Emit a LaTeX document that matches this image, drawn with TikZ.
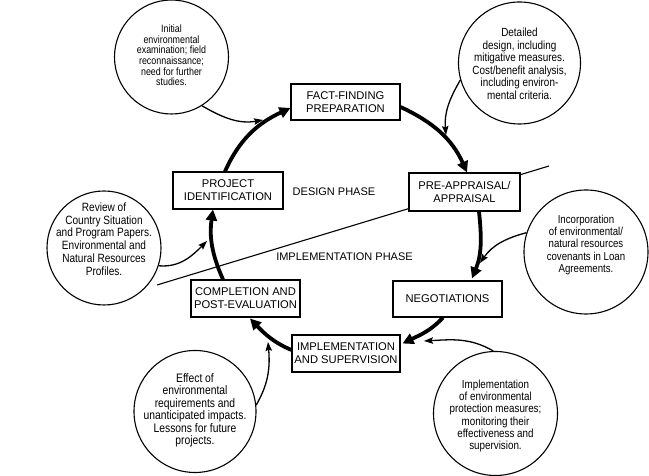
\documentclass[tikz,border=0pt]{standalone}
\usepackage{fontspec}
\setmainfont{Liberation Sans}
\newfontfamily\condfont[FakeStretch=0.84]{Liberation Sans}
\usetikzlibrary{arrows.meta,calc}
\begin{document}
\begin{tikzpicture}[x=1pt,y=1pt,
 box/.style={draw,line width=1.1pt,fill=white,align=center,inner sep=0pt,font=\fontsize{11.2}{12.7}\selectfont},
 bubble/.style={draw,circle,line width=1.1pt,inner sep=0pt},
 btext/.style={align=center,inner sep=0pt,font=\condfont\fontsize{11.8}{12.5}\selectfont},
 cyc/.style={line width=3.8pt,-{Triangle[length=11pt,width=11pt]}},
 feed/.style={line width=1.3pt,-{Stealth[length=9pt,width=6.5pt,inset=1.5pt]}},
 phase/.style={inner sep=0pt,font=\fontsize{11}{13}\selectfont},
 plin/.style={line width=1.1pt}]
\useasboundingbox (0,0) rectangle (649,476);

% phase dividing line
\coordinate (pl1) at (157,191);
\coordinate (pl2) at (549,310);
\draw[plin] (pl1) -- (pl2);

% phase labels
\node[phase] (design) at (334,284) {DESIGN PHASE};
\node[phase] (implph) at (344.5,219) {IMPLEMENTATION PHASE};

% boxes
\node[box,minimum width=109pt,minimum height=36pt] (fact) at (345.5,374) {FACT-FINDING\\PREPARATION};
\node[box,minimum width=110pt,minimum height=37pt] (projid) at (228,285.5) {PROJECT\\IDENTIFICATION};
\node[box,minimum width=111pt,minimum height=38pt] (preapp) at (464.5,284) {PRE-APPRAISAL/\\APPRAISAL};
\node[box,minimum width=109pt,minimum height=36pt] (nego) at (447.5,177) {NEGOTIATIONS};
\node[box,minimum width=109pt,minimum height=37pt] (compl) at (245.5,177.5) {COMPLETION AND\\POST-EVALUATION};
\node[box,minimum width=108pt,minimum height=37pt] (impl) at (346,122.5) {IMPLEMENTATION\\AND SUPERVISION};

% bubbles
\node[bubble,minimum size=114pt] (c1) at (171.5,419) {};
\node[btext,font=\condfont\fontsize{10.6}{10.6}\selectfont] (t1) at (171.5,420.5) {Initial\\environmental\\examination; field\\reconnaissance;\\need for further\\studies.};
\node[bubble,minimum size=122pt] (c2) at (519.5,413) {};
\node[btext] (t2) at (519.5,412) {Detailed\\design, including\\mitigative measures.\\Cost/benefit analysis,\\including environ-\\mental criteria.};
\node[bubble,minimum size=114pt] (c3) at (104,228) {};
\node[btext,font=\condfont\fontsize{12}{12.8}\selectfont] (t3) at (104,237) {Review of\\Country Situation\\and Program Papers.\\Environmental and\\Natural Resources\\Profiles.};
\node[bubble,minimum size=124pt] (c4) at (586,224) {};
\node[btext,font=\condfont\fontsize{11.5}{12.3}\selectfont] (t4) at (586,231) {Incorporation\\of environmental/\\natural resources\\covenants in Loan\\Agreements.};
\node[bubble,minimum size=122pt] (c5) at (195,64.5) {};
\node[btext,font=\condfont\fontsize{12.3}{12.5}\selectfont] (t5) at (195,65.5) {Effect of\\environmental\\requirements and\\unanticipated impacts.\\Lessons for future\\projects.};
\node[bubble,minimum size=124pt] (c6) at (495.5,62.5) {};
\node[btext,font=\condfont\fontsize{11.7}{12.3}\selectfont] (t6) at (495.5,60) {Implementation\\of environmental\\protection measures;\\monitoring their\\effectiveness and\\supervision.};

% cycle arrows
\draw[cyc] ([xshift=-3pt]projid.north) to[out=66,in=205] ([yshift=-6pt]fact.west);
\draw[cyc] ([yshift=-5pt]fact.east) to[out=-25,in=114] ([xshift=2.5pt]preapp.north);
\draw[cyc] ([xshift=14.5pt]preapp.south) to[out=-84,in=68] ([xshift=24.5pt,yshift=2pt]nego.north);
\draw[cyc] ([xshift=-4.5pt]nego.south) to[out=-133,in=26] ([xshift=2pt,yshift=10pt]impl.east);
\draw[cyc] ([yshift=3.5pt]impl.west) to[out=157,in=-46] ([xshift=4.5pt,yshift=-1pt]compl.south);
\draw[cyc] ([xshift=-22.5pt]compl.north) to[out=114,in=262] ([xshift=-15pt]projid.south);

% feedback arrows
\coordinate (ta) at (263,356);
\coordinate (tb) at (446,341);
\coordinate (tc) at (207,235);
\coordinate (td) at (480,213);
\coordinate (te) at (268,134);
\coordinate (tf) at (424,135);
\draw[feed] (c1.-58) to[out=-30,in=190] (ta);
\draw[feed] (c2.196) to[out=240,in=95] (tb);
\draw[feed] (c3.-18) to[out=-5,in=225] (tc);
\draw[feed] (c4.162) to[out=195,in=55] (td);
\draw[feed] (c5.6) to[out=60,in=275] (te);
\draw[feed] (c6.92) to[out=150,in=3] (tf);
\end{tikzpicture}
\end{document}
